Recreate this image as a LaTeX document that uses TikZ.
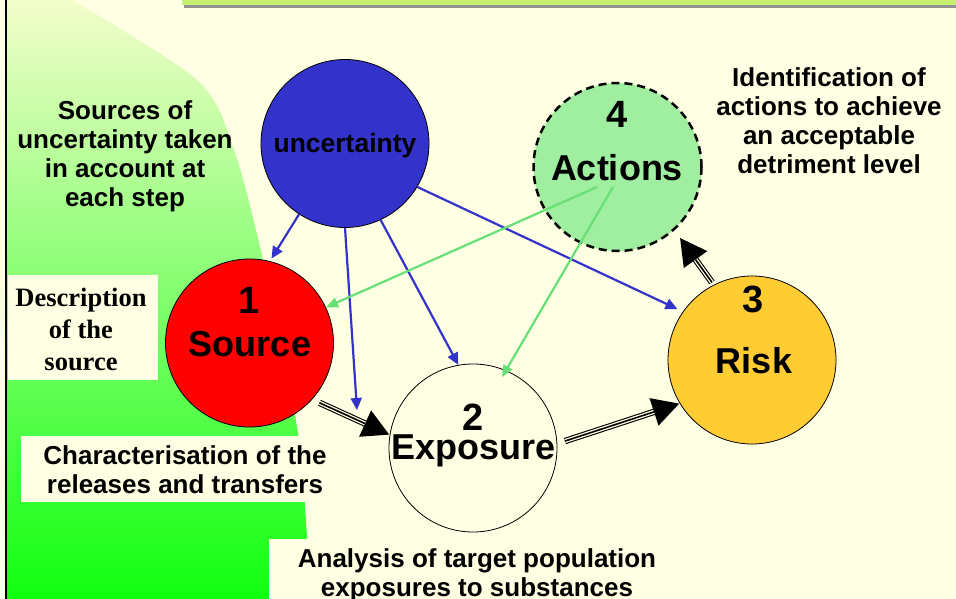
\documentclass[tikz,border=0pt]{standalone}
\usepackage{fontspec}
\setmainfont{Liberation Sans}
\newfontfamily\serifbold{Liberation Serif}
\usetikzlibrary{arrows.meta,calc}
\definecolor{bgc}{RGB}{255,255,227}
\definecolor{gtop}{RGB}{243,253,203}
\definecolor{gmid}{RGB}{172,250,142}
\definecolor{gbot}{RGB}{16,255,16}
\definecolor{ublue}{RGB}{51,51,204}
\definecolor{rorange}{RGB}{255,204,51}
\definecolor{agreen}{RGB}{160,238,160}
\definecolor{garr}{RGB}{102,224,119}
\definecolor{barg}{RGB}{196,240,110}
\tikzset{
  circ/.style={circle, draw=black, line width=0.8pt, minimum size=168pt, inner sep=0pt},
  para/.style={align=center, font=\fontsize{26}{29}\selectfont\bfseries, inner sep=0pt},
  serpara/.style={align=center, font=\serifbold\fontsize{26.5}{32}\selectfont\bfseries, inner sep=0pt},
  numtxt/.style={anchor=base, font=\fontsize{38}{40}\selectfont\bfseries, inner sep=0pt},
  lbltxt/.style={anchor=base, font=\fontsize{36}{40}\selectfont\bfseries, inner sep=0pt},
  barrow/.style={draw=ublue, line width=2.2pt, -{Triangle[length=12pt,width=11pt]}},
  garrow/.style={draw=garr, line width=2.2pt, -{Triangle[length=12pt,width=10pt]}},
  touter/.style={draw=black, line width=6.4pt, -{Triangle[length=27pt,width=27pt]}},
  twhite/.style={draw=bgc, line width=4.2pt},
  tinner/.style={draw=black, line width=1.6pt}
}
\begin{document}
\begin{tikzpicture}[x=1pt,y=-1pt]
\useasboundingbox (0,0) rectangle (956,599);
\fill[bgc] (0,0) rectangle (956,599);
% green shaded region
\shade[top color=gtop, middle color=gmid, bottom color=gbot]
  (7,0) -- plot[smooth] coordinates {(72,0) (197,80) (233,147) (263,260) (297,427) (307,537) (309,599)} -- (7,599) -- cycle;
% left border
\draw[line width=2pt] (6,0) -- (6,599);
% top bar
\fill[gray!85] (184,5) rectangle (956,8.5);
\fill[barg] (182,0) rectangle (956,5.5);
% text boxes
\fill[bgc] (8,275) rectangle (158,380);
\fill[bgc] (21,436) rectangle (340,502);
\fill[bgc] (269,539) rectangle (720,599);
% circles
\node[circ, fill=ublue] (unc) at (345,143.5) {};
\node[circ, fill=red] (src) at (249.5,343) {};
\node[circ] (exp) at (473,448) {};
\node[circ, fill=rorange] (rsk) at (752,360) {};
\node[circ, fill=agreen, line width=2.5pt, dash pattern=on 8pt off 5pt] (act) at (617.5,167) {};
% free coordinates
\coordinate (bfree) at (357,410);
\coordinate (g1) at (597,187);
\coordinate (g2) at (613,187);
% blue arrows
\draw[barrow, shorten >=3pt] (unc.237) -- (src.76);
\draw[barrow] (unc.-90) -- (bfree);
\draw[barrow] (unc.-65) -- (exp.100);
\draw[barrow, shorten >=6pt] (unc.-31) -- (rsk.145);
% green arrows
\draw[garrow] (g1) -- (src.25);
\draw[garrow, shorten >=-8pt] (g2) -- (exp.67);
% triple black arrows
\draw[touter, shorten <=8pt] (src.-42) -- (exp.171);
\draw[twhite, shorten <=8pt, shorten >=27pt] (src.-42) -- (exp.171);
\draw[tinner, shorten <=8pt, shorten >=27pt] (src.-42) -- (exp.171);
\draw[touter, shorten <=8pt] (exp.3) -- (rsk.211);
\draw[twhite, shorten <=8pt, shorten >=27pt] (exp.3) -- (rsk.211);
\draw[tinner, shorten <=8pt, shorten >=27pt] (exp.3) -- (rsk.211);
\draw[touter, shorten <=3pt, shorten >=9pt] (rsk.117) -- (act.-48);
\draw[twhite, shorten <=3pt, shorten >=36pt] (rsk.117) -- (act.-48);
\draw[tinner, shorten <=3pt, shorten >=36pt] (rsk.117) -- (act.-48);
% circle labels
\node[anchor=base, font=\fontsize{26.5}{29}\selectfont\bfseries, inner sep=0pt] (unct) at (345,153) {uncertainty};
\node[numtxt] (n1) at (249,313) {1};
\node[lbltxt] (t1) at (250,356) {Source};
\node[numtxt] (n2) at (473,430) {2};
\node[lbltxt] (t2) at (473.5,459) {Exposure};
\node[numtxt] (n3) at (753,312) {3};
\node[lbltxt] (t3) at (754,373) {Risk};
\node[numtxt] (n4) at (617,128) {4};
\node[lbltxt] (t4) at (617,180) {Actions};
% descriptive texts
\node[para] (srcunc) at (125,156) {Sources of\\uncertainty taken\\in account at\\each step};
\node[para] (ident) at (829,121) {Identification of\\actions to achieve\\an acceptable\\detriment level};
\node[para] (charac) at (185,470) {Characterisation of the\\releases and transfers};
\node[para] (analys) at (477,575) {Analysis of target population\\exposures to substances};
\node[serpara] (descr) at (81,329.5) {Description\\of the\\source};
\end{tikzpicture}
\end{document}
